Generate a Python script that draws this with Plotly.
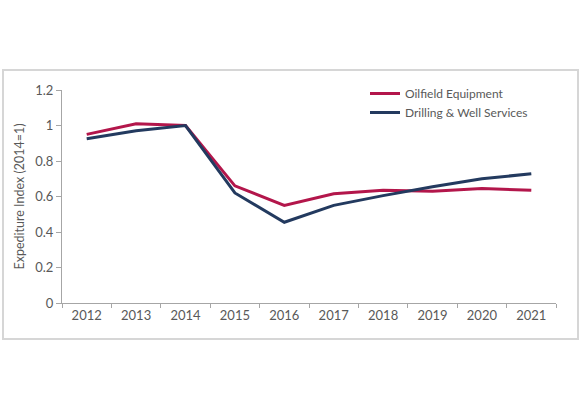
import plotly.graph_objects as go

years = ["2012", "2013", "2014", "2015", "2016", "2017", "2018", "2019", "2020", "2021"]
oilfield_equipment = [0.95, 1.01, 1.00, 0.66, 0.55, 0.615, 0.635, 0.63, 0.645, 0.635]
drilling_well_services = [0.925, 0.97, 1.00, 0.62, 0.455, 0.55, 0.605, 0.655, 0.70, 0.728]
series_names = ["Oilfield Equipment", "Drilling & Well Services"]
y_title = "Expediture Index (2014=1)"

W, H = 583, 399
L, R, T, B = 62, 27, 90, 96
PW, PH = W - L - R, H - T - B
font_family = "Lato, 'Open Sans', sans-serif"


def px_x(x):
    return (x - L) / PW


def px_y(y):
    return (H - B - y) / PH


fig = go.Figure()
fig.add_trace(go.Scatter(x=years, y=oilfield_equipment, mode="lines", name=series_names[0],
                         line=dict(color="#b3164b", width=3)))
fig.add_trace(go.Scatter(x=years, y=drilling_well_services, mode="lines", name=series_names[1],
                         line=dict(color="#233a5f", width=3)))

fig.update_layout(
    width=W, height=H,
    paper_bgcolor="white", plot_bgcolor="white",
    margin=dict(l=L, r=R, t=T, b=B),
    font=dict(family=font_family, size=13, color="#595959"),
    showlegend=True,
    legend=dict(x=px_x(365), y=px_y(79), xanchor="left", yanchor="top",
                bgcolor="rgba(0,0,0,0)", font=dict(size=12, color="#595959"),
                tracegroupgap=0, itemwidth=30),
    shapes=[dict(type="rect", xref="paper", yref="paper",
                 x0=px_x(3), x1=px_x(578), y0=px_y(339), y1=px_y(70),
                 line=dict(color="#d6d6d6", width=2), layer="below")],
)
fig.update_xaxes(type="category", range=[-0.5, 9.5], tickson="boundaries", ticks="outside", ticklen=4,
                 tickcolor="#a6a6a6", showline=True, linecolor="#a6a6a6", linewidth=1,
                 showgrid=False, tickfont=dict(size=13, color="#595959"))
fig.update_yaxes(range=[0, 1.2], dtick=0.2, ticks="outside", ticklen=5,
                 tickcolor="#a6a6a6", showline=True, linecolor="#a6a6a6", linewidth=1,
                 showgrid=False, zeroline=False, tickfont=dict(size=13, color="#595959"),
                 title=dict(text=y_title, font=dict(size=12.5, color="#595959"), standoff=7))

fig.write_html("out.html", config={"displayModeBar": False},
               post_script="document.body.style.margin='0';")
